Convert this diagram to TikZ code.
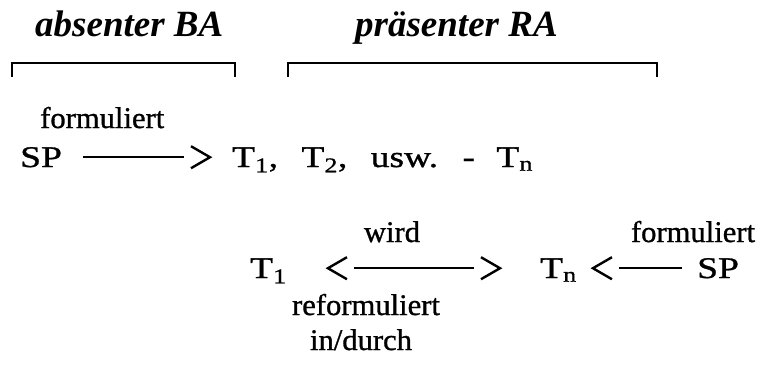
\documentclass[tikz,border=0pt]{standalone}
\usepackage{fontspec}
\setmainfont{Liberation Serif}
\newfontfamily\bodyfont[FakeStretch=1.02,FakeBold=1.0]{Liberation Serif}
\newfontfamily\widefont[FakeStretch=1.25,FakeBold=1.0]{Liberation Serif}
\newcommand\chevr[1]{\draw[chev] ([shift={(-19pt,11pt)}]#1) -- (#1) -- ([shift={(-19pt,-11pt)}]#1);}
\newcommand\chevl[1]{\draw[chev] ([shift={(19pt,11pt)}]#1) -- (#1) -- ([shift={(19pt,-11pt)}]#1);}
\begin{document}
\begin{tikzpicture}[x=1pt,y=1pt,
  txt/.style={inner sep=0pt, font=\bodyfont\fontsize{30}{34}\selectfont},
  wide/.style={inner sep=0pt, font=\widefont\fontsize{30}{34}\selectfont},
  ttl/.style={inner sep=0pt, font=\fontsize{37}{42}\selectfont\bfseries\itshape},
  brk/.style={line width=2.6pt},
  con/.style={line width=2.4pt},
  chev/.style={line width=2.4pt, line join=miter}]
\useasboundingbox (0,0) rectangle (774,-381);
% titles and brackets
\node[ttl,anchor=base west] (t1) at (35,-36) {absenter BA};
\node[ttl,anchor=base west] (t2) at (355,-36) {präsenter RA};
\draw[brk] (12,-77) -- (12,-63) -- (235,-63) -- (235,-77);
\draw[brk] (288,-77) -- (288,-63) -- (657,-63) -- (657,-77);
% row 1
\node[wide,anchor=base west] (sp1) at (20,-167) {SP};
\node[txt,anchor=base west] (f1) at (40,-128) {formuliert};
\node[wide,anchor=base west] (tl) at (232,-167) {T\textsubscript{1},\hspace{14pt} T\textsubscript{2},\hspace{14pt} usw.\hspace{12pt} -\hspace{12pt} T\textsubscript{n}};
\coordinate (r1tip) at ([xshift=-22pt]tl.west |- sp1.east);
\draw[con] ([xshift=21pt]sp1.east) -- ([xshift=-26pt]r1tip);
\chevr{r1tip}
% row 2
\node[wide,anchor=base west] (ta) at (250,-278) {T\textsubscript{1}};
\node[wide,anchor=base west] (tb) at (540,-278) {T\textsubscript{n}};
\node[wide,anchor=base west] (sp2) at (697,-278) {SP};
\node[txt,anchor=base] (w) at (392,-242) {wird};
\node[txt,anchor=base] (f2) at (693,-242) {formuliert};
\node[txt,anchor=base] (rf) at (366,-315) {reformuliert};
\node[txt,anchor=base] (id) at (361,-350) {in/durch};
\coordinate (l2a) at ([xshift=41pt]ta.east |- sp2.west);
\coordinate (l2b) at ([xshift=-40pt]tb.west |- sp2.west);
\draw[con] ([xshift=26pt]l2a) -- ([xshift=-26pt]l2b);
\chevl{l2a}
\chevr{l2b}
\coordinate (r2a) at ([xshift=16pt]tb.east |- sp2.west);
\draw[con] ([xshift=-15pt]sp2.west) -- ([xshift=26pt]r2a);
\chevl{r2a}
\end{tikzpicture}
\end{document}
